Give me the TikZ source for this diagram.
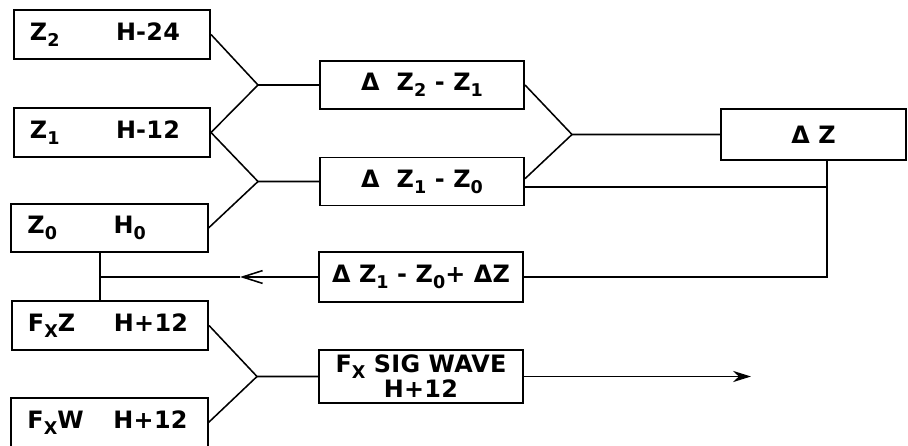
\documentclass[tikz,border=0pt]{standalone}
\usepackage{fontspec}
\setmainfont{DejaVu Sans}[LetterSpace=1]
\usetikzlibrary{arrows.meta}

\newcommand{\pairtext}[2]{\makebox[2.15cm][l]{#1}#2}
\newcommand{\sub}[1]{\raisebox{-0.45ex}{\fontsize{12.5}{12}\selectfont #1}}

\tikzset{
  lbox/.style={draw, line width=1.4pt, minimum height=1.22cm, text width=4.1cm, inner xsep=0.4cm, align=left},
  mbox/.style={draw, line width=1.4pt, minimum width=5.1cm, minimum height=1.2cm, align=center},
  wire/.style={line width=1.1pt},
}

\begin{document}
\begin{tikzpicture}[x=0.025cm, y=-0.025cm, font=\fontsize{17}{14.5}\selectfont\bfseries]
        \useasboundingbox (0,0) rectangle (908,446);
        % input boxes on the left
        \node[lbox] at (112,34.5) (z2) {\pairtext{Z\sub{2}}{H-24}};
        \node[lbox] at (112,132.5) (z1) {\pairtext{Z\sub{1}}{H-12}};
        \node[lbox] at (109.5,228) (z0) {\pairtext{Z\sub{0}}{H\sub{0}}};
        \node[lbox] at (110,325.5) (fz) {\pairtext{F\sub{X}Z}{H+12}};
        \node[lbox] at (109.5,422.5) (fw) {\pairtext{F\sub{X}W}{H+12}};
        % difference boxes
        \node[mbox] at (422,85) (d21) {Δ\ \ Z\sub{2} - Z\sub{1}};
        \node[mbox] at (422,181.5) (d10) {Δ\ \ Z\sub{1} - Z\sub{0}};
        \node[mbox, minimum height=1.25cm] at (421,277) (dsum) {Δ Z\sub{1} - Z\sub{0}+ ΔZ};
        \node[mbox, minimum height=1.28cm] at (421,376.5) (fsig) {F\sub{X} SIG WAVE\\H+12};
        \node[draw, line width=1.4pt, minimum width=4.625cm, minimum height=1.275cm] at (813.5,134.5) (dz) {Δ Z};
        % junction points
        \coordinate (j1) at (258,85);
        \coordinate (j2) at (258,181.5);
        \coordinate (j3) at (572,134.5);
        \coordinate (j4) at (257,376.5);
        \coordinate (r1) at (827,277);
        \coordinate (a1) at (240,277);
        \coordinate (t1) at (100,277);
        \coordinate (e1) at (751,376.5);
        % connectors
        \draw[wire] (z2.east) -- (j1) -- (d21.west);
        \draw[wire] (z1.east) -- (j1);
        \draw[wire] (z1.east) -- (j2) -- (d10.west);
        \draw[wire] (z0.east) -- (j2);
        \draw[wire] ([yshift=2pt]d10.east) -- (j3);
        \draw[wire] (d21.east) -- (j3) -- (dz.west);
        \draw[wire] ([yshift=-4pt]d10.east) -- ([yshift=-4pt]d10.east -| r1);
        \draw[wire] (dz.south -| r1) -- (r1) -- (dsum.east);
        \draw[wire, -{Straight Barb[length=0.5cm, width=0.32cm]}] (dsum.west) -- (a1);
        \draw[wire] (a1) -- (t1);
        \draw[wire] (z0.south -| t1) -- (fz.north -| t1);
        \draw[wire] (fz.east) -- (j4) -- (fsig.west);
        \draw[wire] (fw.east) -- (j4);
        \draw[wire, -{Stealth[length=0.45cm, width=0.28cm]}] (fsig.east) -- (e1);
    \end{tikzpicture}
\end{document}
